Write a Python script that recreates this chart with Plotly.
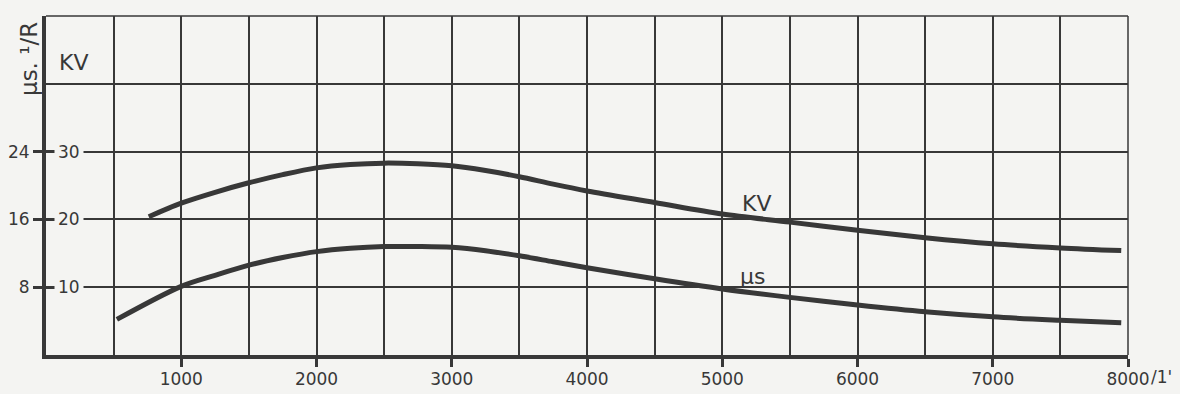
import plotly.graph_objects as go

# Engine speed (1/min) and ignition voltage (KV)
rpm_kv = [760, 1000, 1250, 1500, 1750, 2000, 2250, 2500, 2750, 3000, 3250, 3500, 3750,
          4000, 4500, 5000, 5500, 6000, 6500, 7000, 7500, 7950]
kv = [20.4, 22.4, 24.0, 25.4, 26.6, 27.6, 28.1, 28.3, 28.2, 27.9, 27.2, 26.3, 25.2,
      24.2, 22.5, 20.8, 19.6, 18.4, 17.3, 16.4, 15.8, 15.4]

# Spark duration per revolution (μs·1/R)
rpm_us = [524, 1000, 1250, 1500, 1750, 2000, 2250, 2500, 2750, 3000, 3250, 3500, 3750,
          4000, 4500, 5000, 5500, 6000, 6500, 7000, 7500, 7950]
us_per_r = [4.2, 8.1, 9.4, 10.6, 11.5, 12.2, 12.6, 12.8, 12.8, 12.7, 12.3, 11.7, 11.0,
            10.3, 9.0, 7.8, 6.8, 5.9, 5.1, 4.5, 4.1, 3.8]

x_ticks = [1000, 2000, 3000, 4000, 5000, 6000, 7000, 8000]
x_tick_labels = ["1000", "2000", "3000", "4000", "5000", "6000", "7000", "8000"]
kv_ticks = [10, 20, 30]
kv_tick_labels = ["10", "20", "30"]
us_ticks = [8, 16, 24]
us_tick_labels = ["8", "16", "24"]

BG = "#f4f4f2"
INK = "#383838"
FONT = "DejaVu Sans"

fig = go.Figure()
fig.add_trace(go.Scatter(x=rpm_kv, y=kv, mode="lines",
                         line=dict(color=INK, width=5, shape="spline", smoothing=0.9),
                         yaxis="y", showlegend=False, hoverinfo="skip"))
fig.add_trace(go.Scatter(x=rpm_us, y=us_per_r, mode="lines",
                         line=dict(color=INK, width=5, shape="spline", smoothing=0.9),
                         yaxis="y2", showlegend=False, hoverinfo="skip"))
# registers the overlay axis that carries the inner tick marks
fig.add_trace(go.Scatter(x=[None], y=[None], yaxis="y3", showlegend=False, hoverinfo="skip"))

fig.update_layout(
    width=1180, height=394,
    margin=dict(l=46, r=52, t=16, b=39, autoexpand=False),
    paper_bgcolor=BG, plot_bgcolor=BG,
    font=dict(family=FONT, size=16, color=INK),
    xaxis=dict(
        range=[0, 8000], tickvals=x_ticks, ticktext=x_tick_labels,
        ticks="outside", ticklen=8, tickwidth=3, tickcolor=INK,
        ticklabelstandoff=-2, automargin=False,
        showline=True, linewidth=3.5, linecolor=INK,
        showgrid=True, gridcolor=INK, gridwidth=1.5,
        minor=dict(dtick=500, showgrid=True, gridcolor=INK, gridwidth=1.5, ticks=""),
        zeroline=False, fixedrange=True,
        tickfont=dict(size=17, color=INK),
    ),
    yaxis=dict(
        range=[0, 50], tickvals=[10, 20, 30, 40, 50], showticklabels=False,
        ticks="", showline=True, linewidth=3.5, linecolor=INK, automargin=False,
        showgrid=True, gridcolor=INK, gridwidth=1.5,
        zeroline=False, fixedrange=True,
    ),
    yaxis2=dict(
        range=[0, 40], overlaying="y", side="left", automargin=False,
        tickvals=us_ticks, ticktext=us_tick_labels,
        ticks="outside", ticklen=12, tickwidth=2.5, tickcolor=INK,
        showgrid=False, showline=False, zeroline=False, fixedrange=True,
        tickfont=dict(size=17, color=INK),
    ),
    yaxis3=dict(
        range=[0, 50], overlaying="y", side="left", automargin=False,
        tickvals=kv_ticks, ticks="inside", ticklen=10, tickwidth=2.5, tickcolor=INK,
        showticklabels=False, showgrid=False, showline=False, zeroline=False, fixedrange=True,
    ),
)

# thin frame on the right and top
fig.add_shape(type="line", xref="paper", yref="paper", x0=1, x1=1, y0=0, y1=1,
              line=dict(color=INK, width=1.5))
fig.add_shape(type="line", xref="paper", yref="paper", x0=0, x1=1, y0=1, y1=1,
              line=dict(color=INK, width=1.5))

# KV scale labels sitting inside the frame
for v, t in zip(kv_ticks, kv_tick_labels):
    fig.add_annotation(x=0, xref="paper", y=v, yref="y", text=t, showarrow=False,
                       xanchor="left", yanchor="middle", xshift=8, bgcolor=BG, borderpad=3,
                       font=dict(size=17, color=INK, family=FONT))

# speed unit after last tick
fig.add_annotation(x=8000, xref="x", y=0, yref="paper", text="/1'", showarrow=False,
                   xanchor="left", yanchor="middle", xshift=21, yshift=-22,
                   font=dict(size=17, color=INK, family=FONT))

# axis titles
fig.add_annotation(x=0, xref="paper", y=40, yref="y", text="KV", showarrow=False,
                   xanchor="left", yanchor="bottom", xshift=11, yshift=7,
                   font=dict(size=22, color=INK, family=FONT))
fig.add_annotation(x=0, xref="paper", y=1, yref="paper", text="μs. ¹/R", showarrow=False,
                   textangle=-90, xanchor="right", yanchor="top", xshift=-2, yshift=-4,
                   font=dict(size=23, color=INK, family=FONT))

# curve labels
fig.add_annotation(x=5250, y=22.4, xref="x", yref="y", text="KV", showarrow=False,
                   font=dict(size=22, color=INK, family=FONT))
fig.add_annotation(x=5220, y=11.6, xref="x", yref="y", text="μs", showarrow=False,
                   font=dict(size=22, color=INK, family=FONT))

fig.write_html("out.html")
